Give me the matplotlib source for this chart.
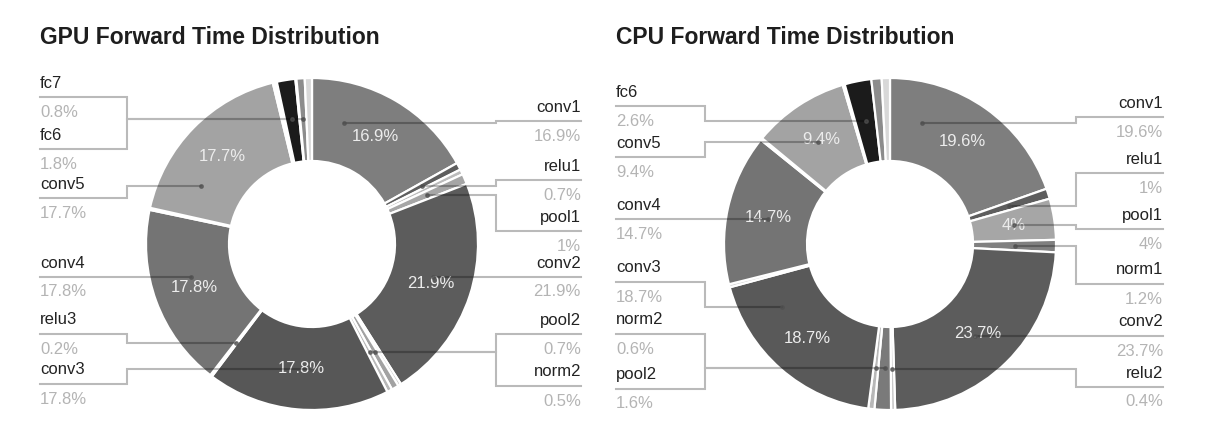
import matplotlib.pyplot as plt
import numpy as np

plt.rcParams['font.family'] = ['Liberation Sans', 'DejaVu Sans']

W, H = 1213, 428

# share of forward time per layer (%), clockwise from 12 o'clock
gpu_layers = ['conv1', 'relu1', 'norm1', 'pool1', 'conv2', 'relu2', 'pool2', 'norm2',
              'conv3', 'relu3', 'conv4', 'relu4', 'conv5', 'relu5', 'pool5',
              'fc6', 'relu6', 'fc7', 'other']
gpu_share = [16.9, 0.7, 0.5, 1.0, 21.9, 0.3, 0.7, 0.5,
             17.8, 0.2, 17.8, 0.2, 17.7, 0.2, 0.2,
             1.8, 0.1, 0.8, 0.7]

cpu_layers = ['conv1', 'relu1', 'pool1', 'norm1', 'conv2', 'relu2', 'pool2', 'norm2',
              'conv3', 'relu3', 'conv4', 'relu4', 'conv5', 'relu5',
              'fc6', 'fc7', 'other']
cpu_share = [19.6, 1.0, 4.0, 1.2, 23.7, 0.4, 1.6, 0.6,
             18.7, 0.3, 14.7, 0.2, 9.4, 0.2,
             2.6, 1.0, 0.8]

# which layers get an outside label
gpu_left = ['fc7', 'fc6', 'conv5', 'conv4', 'relu3', 'conv3']
gpu_right = ['conv1', 'relu1', 'pool1', 'conv2', 'pool2', 'norm2']
cpu_left = ['fc6', 'conv5', 'conv4', 'conv3', 'norm2', 'pool2']
cpu_right = ['conv1', 'relu1', 'pool1', 'norm1', 'conv2', 'relu2']

# grey shades per layer
shade = {'conv1': '#7e7e7e', 'relu1': '#5e5e5e', 'norm1': '#bcbcbc', 'pool1': '#a6a6a6',
         'conv2': '#5c5c5c', 'relu2': '#cacaca', 'pool2': '#a2a2a2', 'norm2': '#b8b8b8',
         'conv3': '#575757', 'relu3': '#d2d2d2', 'conv4': '#747474', 'relu4': '#d0d0d0',
         'conv5': '#a3a3a3', 'relu5': '#dedede', 'pool5': '#c4c4c4', 'fc6': '#1b1b1b',
         'relu6': '#e2e2e2', 'fc7': '#8c8c8c', 'other': '#d8d8d8'}
cpu_shade = dict(shade, norm1='#808080', pool2='#7a7a7a', conv3='#595959')

R_OUT, R_IN, R_MID = 166, 83, 125


def Y(y):
    # image rows (top down) -> axes units (bottom up)
    return H - y


def pct(v):
    return f'{round(v, 1):g}%'


def dot_for(wedge, cx, cy, target_y, side_x):
    t1, t2 = wedge.theta1, wedge.theta2
    m = 15
    if t2 - t1 <= 2 * m:
        th = np.radians((t1 + t2) / 2)
        return cx + R_MID * np.cos(th), cy + R_MID * np.sin(th)
    th = np.radians(np.linspace(t1 + m, t2 - m, 400))
    xs = cx + R_MID * np.cos(th)
    ys = cy + R_MID * np.sin(th)
    cost = np.abs(ys - target_y) + 0.01 * np.abs(xs - side_x)
    i = np.argmin(cost)
    return xs[i], ys[i]


def draw_donut(ax, title, x_left, cx, layers, share, colors, left, right,
               left_y, right_y, br_left, x_right, br_right):
    cy = Y(244)
    ax.text(x_left, Y(37), title, fontsize=16.5, fontweight='bold', color='#1e1e1e',
            ha='left', va='center')
    wedges, _ = ax.pie(share, radius=R_OUT, center=(cx, cy), startangle=90,
                       counterclock=False, colors=colors,
                       wedgeprops=dict(width=R_OUT - R_IN, edgecolor='white', linewidth=1.6))
    for w, v in zip(wedges, share):
        if v >= 4:
            th = np.radians((w.theta1 + w.theta2) / 2)
            ax.text(cx + R_MID * np.cos(th), cy + R_MID * np.sin(th), pct(v),
                    fontsize=12, color='#ececec', ha='center', va='center', zorder=3)

    # all leaders of one chart go into one path so crossings don't darken
    lx, ly, dots = [], [], []
    for names, ys, tx, bx, ha in ((left, left_y, x_left, br_left, 'left'),
                                  (right, right_y, x_right, br_right, 'right')):
        prev = None
        for name, ny in zip(names, ys):
            i = layers.index(name)
            ax.text(tx, Y(ny), name, fontsize=12, color='#222222', ha=ha, va='center')
            ax.text(tx, Y(ny + 29), pct(share[i]), fontsize=12, color='#b4b4b4',
                    ha=ha, va='center')
            uy = Y(ny + 14)
            dx, dy = dot_for(wedges[i], cx, cy, uy, tx)
            if prev is not None and abs(dy - prev) < 3:
                dy = prev  # neighbouring tiny slices share one leader row
            prev = dy
            lx += [tx, bx, bx, dx, np.nan]
            ly += [uy, uy, dy, dy, np.nan]
            dots.append((dx, dy))
    ax.plot(lx, ly, color='black', alpha=0.27, lw=1.5, solid_joinstyle='miter', zorder=4)
    ax.plot(*zip(*dots), 'o', ls='none', ms=2.5, color='#505050', alpha=0.7, zorder=5)


fig = plt.figure(figsize=(W / 100, H / 100), dpi=100)
ax = fig.add_axes([0, 0, 1, 1])

draw_donut(ax, 'GPU Forward Time Distribution', 40, 312,
           gpu_layers, gpu_share, [shade[k] for k in gpu_layers],
           gpu_left, gpu_right,
           [83, 135, 184, 263, 320, 370], [107, 166, 217, 263, 320, 372],
           127, 581, 496)
draw_donut(ax, 'CPU Forward Time Distribution', 616, 890,
           cpu_layers, cpu_share, [cpu_shade[k] for k in cpu_layers],
           cpu_left, cpu_right,
           [92, 143, 205, 268, 320, 375], [103, 159, 215, 270, 322, 373],
           705, 1163, 1076)

ax.set_xlim(0, W)
ax.set_ylim(0, H)
ax.set_aspect('equal')
ax.axis('off')

fig.savefig('out.png', dpi=100)
